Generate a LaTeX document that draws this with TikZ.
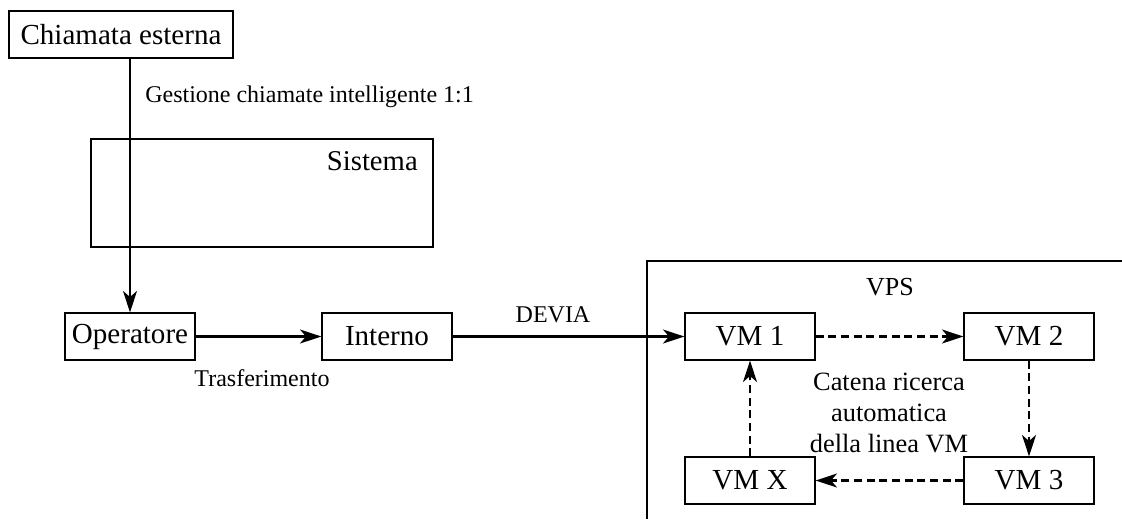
\documentclass[tikz,border=0pt]{standalone}
\usepackage{fontspec}
\setmainfont{Liberation Serif}
\usetikzlibrary{arrows.meta}
\begin{document}
\begin{tikzpicture}[x=0.75pt,y=-0.75pt,
  box/.style={draw,line width=1pt,inner sep=0pt,minimum width=97.5pt,minimum height=35.25pt,font=\fontsize{21.8}{26}\selectfont},
  lbl/.style={inner sep=0pt,font=\fontsize{18}{21}\selectfont},
  mid/.style={inner sep=0pt,font=\fontsize{19.8}{23}\selectfont},
  conn/.style={line width=1.9pt,-{Stealth[length=16pt,width=10.5pt,inset=4.5pt]}},
  dconn/.style={conn,dash pattern=on 6pt off 3.5pt}]
\useasboundingbox (0,0) rectangle (1122,519);
\node[box,minimum width=168pt] (chiamata) at (121,34.5) {Chiamata esterna};
\node[draw,line width=1pt,minimum width=256.5pt,minimum height=81pt,inner sep=0pt] (sistema) at (262,193) {};
\node[inner sep=0pt,anchor=base east,font=\fontsize{21.5}{26}\selectfont] (sistlbl) at (418,170) {Sistema};
\node[box] (op) at (130,336.5) {Operatore};
\node[box] (int) at (387,336.5) {Interno};
\node[box] (vm1) at (750,336.5) {VM 1};
\node[box] (vm2) at (1029,336.5) {VM 2};
\node[box] (vm3) at (1029,480.5) {VM 3};
\node[box] (vmx) at (750,480.5) {VM X};
\draw[line width=1pt] (647,519) -- (647,261) -- (1122,261);
\node[mid,font=\fontsize{19.5}{22}\selectfont] (vps) at (890,287) {VPS};
\node[lbl,anchor=west] (gest) at (145,97) {Gestione chiamate intelligente 1:1};
\node[lbl] (tras) at (262,378) {Trasferimento};
\node[lbl] (devia) at (553,315) {DEVIA};
\node[mid,align=center] (catena) at (889,413) {Catena ricerca\\automatica\\della linea VM};
\draw[conn] (op.north |- chiamata.south) -- (op.north);
\draw[conn] (op) -- (int);
\draw[conn] (int) -- (vm1);
\draw[dconn] (vm1) -- (vm2);
\draw[dconn] (vm2) -- (vm3);
\draw[dconn] (vm3) -- (vmx);
\draw[dconn] (vmx) -- (vm1);
\end{tikzpicture}
\end{document}
